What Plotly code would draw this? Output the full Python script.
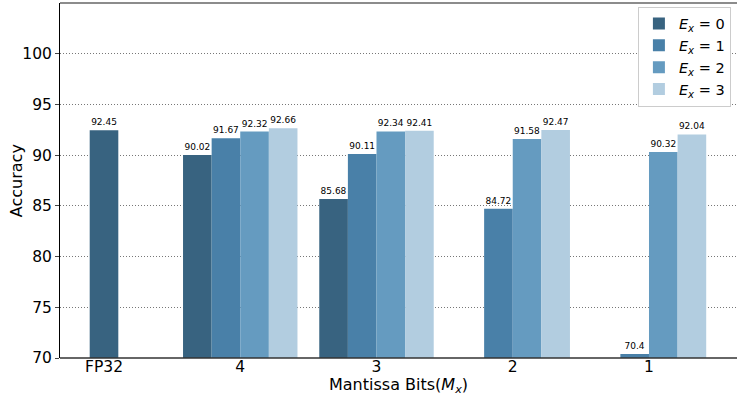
import plotly.graph_objects as go

categories = ["FP32", "4", "3", "2", "1"]
groups = ["4", "3", "2", "1"]
fp32_value = [92.45]
ex0 = [90.02, 85.68, None, None]
ex1 = [91.67, 90.11, 84.72, 70.4]
ex2 = [92.32, 92.34, 91.58, 90.32]
ex3 = [92.66, 92.41, 92.47, 92.04]
series_names = ["<i>E</i><sub><i>x</i></sub> = 0", "<i>E</i><sub><i>x</i></sub> = 1",
                "<i>E</i><sub><i>x</i></sub> = 2", "<i>E</i><sub><i>x</i></sub> = 3"]
colors = ["#386380", "#4980a8", "#659bc0", "#b2cde0"]
yticks = [70, 75, 80, 85, 90, 95, 100]
x_title = "Mantissa Bits(<i>M</i><sub><i>x</i></sub>)"
y_title = "Accuracy"

W = 0.21
font = "DejaVu Sans"

fig = go.Figure()
for name, vals, col in zip(series_names, [ex0, ex1, ex2, ex3], colors):
    fig.add_trace(go.Bar(
        x=groups, y=vals, name=name, marker=dict(color=col, line=dict(width=0)),
        texttemplate="%{y}", textposition="outside",
        textfont=dict(size=9, color="black", family=font), cliponaxis=False,
    ))
fig.add_trace(go.Bar(
    x=["FP32"], y=fp32_value, name="FP32", showlegend=False,
    marker=dict(color=colors[0], line=dict(width=0)), width=W, offset=-W / 2,
    texttemplate="%{y}", textposition="outside",
    textfont=dict(size=9, color="black", family=font), cliponaxis=False,
))

fig.update_layout(
    width=737, height=395,
    margin=dict(l=60, r=0, t=3, b=37),
    barmode="group", bargap=1 - 4 * W, bargroupgap=0,
    plot_bgcolor="white", paper_bgcolor="white",
    font=dict(family=font, color="black"),
    legend=dict(x=0.991, y=0.99, xanchor="right", yanchor="top",
                bordercolor="#cccccc", borderwidth=1, bgcolor="white",
                font=dict(size=14.5, family=font), tracegroupgap=0),
    xaxis=dict(type="category", categoryorder="array", categoryarray=categories,
               range=[-0.323, 4.646], showgrid=False, showline=False,
               ticks="", ticklabelstandoff=-3,
               tickfont=dict(size=15.5)),
    yaxis=dict(range=[70, 105], tickvals=yticks, showgrid=True, gridcolor="#777",
               griddash="1px,2px", gridwidth=1, showline=True, linecolor="black", linewidth=1,
               ticks="outside", ticklen=4, tickfont=dict(size=15.5), zeroline=False),
    annotations=[
        dict(text=x_title, xref="paper", yref="paper", x=0.5, y=-0.078,
             xanchor="center", yanchor="middle", showarrow=False, font=dict(size=16)),
        dict(text=y_title, xref="paper", yref="paper", x=-0.064, y=0.5, textangle=-90,
             xanchor="center", yanchor="middle", showarrow=False, font=dict(size=16)),
    ],
    shapes=[
        dict(type="line", xref="paper", yref="paper", x0=0, x1=1, y0=0, y1=0,
             line=dict(color="#333", width=1.5)),
        dict(type="line", xref="paper", yref="paper", x0=0, x1=1, y0=1, y1=1,
             line=dict(color="#666", width=1.5)),
    ],
)
fig.write_html("out.html", config=dict(displayModeBar=False),
               post_script="document.body.style.margin='0';")
